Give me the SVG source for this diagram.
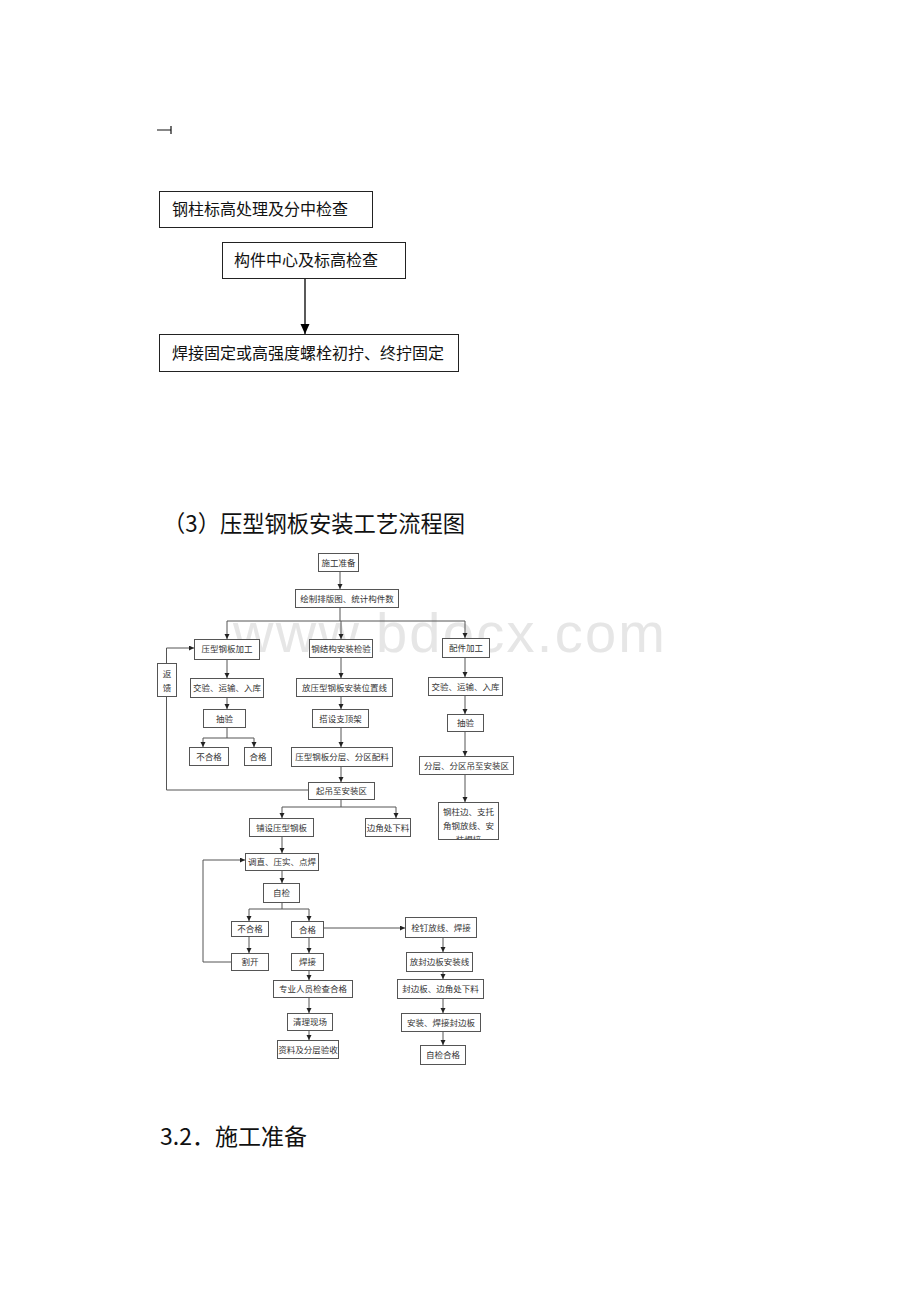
<svg xmlns="http://www.w3.org/2000/svg" width="920" height="1302" viewBox="0 0 920 1302">
<style>
.bg{fill:#fff}
.tb{fill:#fff;stroke:#222;stroke-width:1}
.t16{font-family:"Noto Sans CJK SC","Noto Sans CJK JP",sans-serif;font-size:16px;fill:#111}
.t24{font-family:"Noto Sans CJK SC","Noto Sans CJK JP",sans-serif;font-size:23px;fill:#111}
.b{fill:#fff;stroke:#555;stroke-width:1}
.s{font-family:"Noto Sans CJK SC","Noto Sans CJK JP",sans-serif;font-size:8.5px;fill:#333;text-anchor:middle}
.c{fill:none;stroke:#555;stroke-width:1}
.a{marker-end:url(#ah)}
.wm{font-family:"Liberation Sans",Arial,sans-serif;font-size:56px;fill:#e6e6e6}
</style>
<defs>
<marker id="ah" markerUnits="userSpaceOnUse" markerWidth="6" markerHeight="6" refX="5" refY="2.5" orient="auto"><path d="M0,0 L5,2.5 L0,5 z" fill="#222"/></marker>
<marker id="ahb" markerUnits="userSpaceOnUse" markerWidth="12" markerHeight="10" refX="10" refY="4.5" orient="auto"><path d="M0,0 L10,4.5 L0,9 z" fill="#000"/></marker>
<clipPath id="clip18"><rect x="438" y="802" width="60" height="37"/></clipPath>
</defs>
<rect class="bg" x="0" y="0" width="920" height="1302"/>

<text class="wm" x="233" y="652" textLength="432" lengthAdjust="spacing">www.bdocx.com</text>

<g id="mark"><path d="M157,130 H171 M171,126 V134" stroke="#111" stroke-width="1.2" fill="none"/></g>

<g id="top-connectors"><path d="M305,278 V334" stroke="#000" stroke-width="1.3" fill="none" marker-end="url(#ahb)"/></g>
<g id="top1"><rect class="tb" x="159.5" y="191.5" width="213" height="36"/><text class="t16" x="172" y="215">钢柱标高处理及分中检查</text></g>
<g id="top2"><rect class="tb" x="222.5" y="242.5" width="183" height="36"/><text class="t16" x="234" y="266">构件中心及标高检查</text></g>
<g id="top3"><rect class="tb" x="159.5" y="334.5" width="299" height="37"/><text class="t16" x="172" y="359">焊接固定或高强度螺栓初拧、终拧固定</text></g>

<text class="t24" x="163" y="532" textLength="302" lengthAdjust="spacingAndGlyphs">（3）压型钢板安装工艺流程图</text>

<g id="connectors">
<path class="c a" d="M340,571 V589"/>
<path class="c" d="M340,607 V621 M227,621 H465"/>
<path class="c a" d="M227,621 V639"/>
<path class="c a" d="M341,621 V639"/>
<path class="c a" d="M465,621 V638"/>
<path class="c a" d="M227,659 V678"/>
<path class="c a" d="M227,697 V709"/>
<path class="c" d="M227,727 V738 M203,738 H254"/>
<path class="c a" d="M203,738 V747"/>
<path class="c a" d="M254,738 V747"/>
<path class="c a" d="M341,657 V678"/>
<path class="c a" d="M341,696 V709"/>
<path class="c a" d="M341,727 V747"/>
<path class="c a" d="M341,766 V782"/>
<path class="c a" d="M465,657 V677"/>
<path class="c a" d="M465,695 V714"/>
<path class="c a" d="M465,731 V756"/>
<path class="c a" d="M465,774 V802"/>
<path class="c a" d="M166.5,663 V648 H194"/>
<path class="c" d="M166.5,696 V790 H308"/>
<path class="c" d="M341,799 V807 M282,807 H396"/>
<path class="c a" d="M282,807 V818"/>
<path class="c a" d="M396,807 V818"/>
<path class="c a" d="M282,836 V853"/>
<path class="c a" d="M282,870 V883"/>
<path class="c" d="M282,902 V909 M249,909 H309"/>
<path class="c a" d="M249,909 V921"/>
<path class="c a" d="M309,909 V921"/>
<path class="c a" d="M249,936 V953"/>
<path class="c a" d="M309,937 V953"/>
<path class="c a" d="M309,970 V980"/>
<path class="c a" d="M309,997 V1013"/>
<path class="c a" d="M309,1030 V1040"/>
<path class="c a" d="M231,962 H203 V860 H245"/>
<path class="c a" d="M323,928 H405"/>
<path class="c a" d="M443,937 V952"/>
<path class="c a" d="M443,971 V979"/>
<path class="c a" d="M443,998 V1013"/>
<path class="c a" d="M443,1031 V1045"/>
</g>

<g id="n1"><rect class="b" x="318.5" y="553.5" width="40" height="18"/><text class="s" x="338.5" y="565.5">施工准备</text></g>
<g id="n2"><rect class="b" x="295.5" y="589.5" width="103" height="18"/><text class="s" x="347" y="601.5">绘制排版图、统计构件数</text></g>
<g id="n3"><rect class="b" x="194.5" y="639.5" width="65" height="20"/><text class="s" x="227" y="652">压型钢板加工</text></g>
<g id="n4"><rect class="b" x="309.5" y="639.5" width="63" height="18"/><text class="s" x="341" y="651.5">钢结构安装检验</text></g>
<g id="n5"><rect class="b" x="442.5" y="638.5" width="47" height="19"/><text class="s" x="466" y="651">配件加工</text></g>
<g id="n6"><rect class="b" x="157.5" y="663.5" width="19" height="33"/><text class="s" x="167" y="677">返</text><text class="s" x="167" y="691">馈</text></g>
<g id="n7"><rect class="b" x="190.5" y="678.5" width="73" height="19"/><text class="s" x="227" y="691">交验、运输、入库</text></g>
<g id="n8"><rect class="b" x="296.5" y="678.5" width="96" height="18"/><text class="s" x="344.5" y="690.5">放压型钢板安装位置线</text></g>
<g id="n9"><rect class="b" x="428.5" y="677.5" width="74" height="18"/><text class="s" x="465.5" y="689.5">交验、运输、入库</text></g>
<g id="n10"><rect class="b" x="203.5" y="709.5" width="42" height="18"/><text class="s" x="224.5" y="721.5">抽验</text></g>
<g id="n11"><rect class="b" x="312.5" y="709.5" width="56" height="18"/><text class="s" x="340.5" y="721.5">搭设支顶架</text></g>
<g id="n12"><rect class="b" x="447.5" y="714.5" width="36" height="17"/><text class="s" x="465.5" y="726">抽验</text></g>
<g id="n13"><rect class="b" x="189.5" y="747.5" width="39" height="18"/><text class="s" x="209" y="759.5">不合格</text></g>
<g id="n14"><rect class="b" x="244.5" y="747.5" width="27" height="18"/><text class="s" x="258" y="759.5">合格</text></g>
<g id="n15"><rect class="b" x="291.5" y="747.5" width="101" height="19"/><text class="s" x="342" y="760">压型钢板分层、分区配料</text></g>
<g id="n16"><rect class="b" x="419.5" y="756.5" width="94" height="18"/><text class="s" x="466.5" y="768.5">分层、分区吊至安装区</text></g>
<g id="n17"><rect class="b" x="308.5" y="782.5" width="66" height="17"/><text class="s" x="341.5" y="794">起吊至安装区</text></g>
<g id="n18"><rect class="b" x="438.5" y="802.5" width="60" height="37"/><g clip-path="url(#clip18)"><text class="s" x="468.5" y="815">钢柱边、支托</text><text class="s" x="468.5" y="829">角钢放线、安</text><text class="s" x="468.5" y="843">装焊接</text></g></g>
<g id="n19"><rect class="b" x="249.5" y="818.5" width="64" height="18"/><text class="s" x="281.5" y="830.5">铺设压型钢板</text></g>
<g id="n20"><rect class="b" x="365.5" y="818.5" width="45" height="18"/><text class="s" x="388" y="830.5">边角处下料</text></g>
<g id="n21"><rect class="b" x="245.5" y="853.5" width="73" height="17"/><text class="s" x="282" y="865">调直、压实、点焊</text></g>
<g id="n22"><rect class="b" x="263.5" y="883.5" width="36" height="19"/><text class="s" x="281.5" y="896">自检</text></g>
<g id="n23"><rect class="b" x="231.5" y="921.5" width="37" height="15"/><text class="s" x="250" y="932">不合格</text></g>
<g id="n24"><rect class="b" x="291.5" y="921.5" width="32" height="16"/><text class="s" x="307.5" y="932.5">合格</text></g>
<g id="n25"><rect class="b" x="231.5" y="953.5" width="37" height="17"/><text class="s" x="250" y="965">割开</text></g>
<g id="n26"><rect class="b" x="291.5" y="953.5" width="32" height="17"/><text class="s" x="307.5" y="965">焊接</text></g>
<g id="n27"><rect class="b" x="273.5" y="980.5" width="79" height="17"/><text class="s" x="313" y="992">专业人员检查合格</text></g>
<g id="n28"><rect class="b" x="287.5" y="1013.5" width="45" height="17"/><text class="s" x="310" y="1025">清理现场</text></g>
<g id="n29"><rect class="b" x="277.5" y="1040.5" width="61" height="18"/><text class="s" x="308" y="1052.5">资料及分层验收</text></g>
<g id="n30"><rect class="b" x="405.5" y="917.5" width="71" height="20"/><text class="s" x="441" y="930.5">栓钉放线、焊接</text></g>
<g id="n31"><rect class="b" x="406.5" y="952.5" width="66" height="19"/><text class="s" x="439.5" y="965">放封边板安装线</text></g>
<g id="n32"><rect class="b" x="397.5" y="979.5" width="86" height="19"/><text class="s" x="440.5" y="992">封边板、边角处下料</text></g>
<g id="n33"><rect class="b" x="401.5" y="1013.5" width="79" height="18"/><text class="s" x="441" y="1025.5">安装、焊接封边板</text></g>
<g id="n34"><rect class="b" x="420.5" y="1045.5" width="45" height="19"/><text class="s" x="443" y="1058">自检合格</text></g>

<text class="t24" x="160" y="1145">3.2．施工准备</text>
</svg>
